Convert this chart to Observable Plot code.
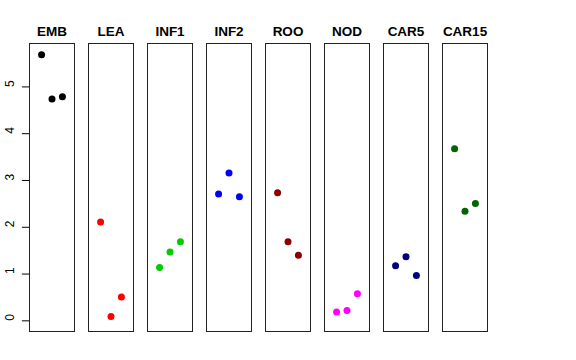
<!DOCTYPE html>
<html>
<head>
<meta charset="utf-8">
<script src="https://cdn.jsdelivr.net/npm/d3@7"></script>
<script src="https://cdn.jsdelivr.net/npm/@observablehq/plot@0.6"></script>
<style>
  html, body { margin: 0; padding: 0; background: #fff; }
  svg { display: block; }
</style>
</head>
<body>
<div id="chart"></div>
<script>
const categories = ["EMB", "LEA", "INF1", "INF2", "ROO", "NOD", "CAR5", "CAR15"];
const colors = ["#000000", "#FF0000", "#00CD00", "#0000FF", "#8B0000", "#FF00FF", "#000080", "#006400"];
const positions = [1, 2, 3];
const EMB = [5.69, 4.74, 4.79];
const LEA = [2.11, 0.09, 0.51];
const INF1 = [1.14, 1.47, 1.69];
const INF2 = [2.71, 3.16, 2.65];
const ROO = [2.74, 1.69, 1.40];
const NOD = [0.19, 0.22, 0.58];
const CAR5 = [1.18, 1.37, 0.97];
const CAR15 = [3.68, 2.34, 2.51];
const yTicks = [0, 1, 2, 3, 4, 5];

const series = [EMB, LEA, INF1, INF2, ROO, NOD, CAR5, CAR15];
const rows = [];
categories.forEach((c, i) => {
  series[i].forEach((v, j) => rows.push({panel: c, x: positions[j], y: v}));
});

const plot = Plot.plot({
  width: 576,
  height: 360,
  marginLeft: 29,
  marginRight: 88,
  marginTop: 43,
  marginBottom: 29,
  style: {fontFamily: "'Liberation Sans', Arial, sans-serif", background: "#fff"},
  fx: {domain: categories, paddingInner: 0.237, paddingOuter: 0, label: null},
  x: {domain: [-0.16, 4.16], axis: null},
  y: {domain: [-0.228, 5.928], axis: null},
  color: {domain: categories, range: colors},
  marks: [
    Plot.frame({stroke: "#222", strokeWidth: 1}),
    Plot.axisFx({anchor: "top", tickSize: 0, tickPadding: 8, fontSize: 13.5, fontWeight: "bold", label: null}),
    Plot.ruleY(yTicks, {y: d => d, fx: () => "EMB", x1: -0.16, x2: -0.16 - 7 / 10.25, stroke: "#000", clip: false}),
    Plot.text(yTicks, {y: d => d, fx: () => "EMB", text: d => String(d), frameAnchor: "left", dx: -19, rotate: -90, fontSize: 12, fill: "#000"}),
    Plot.dot(rows, {fx: "panel", x: "x", y: "y", fill: "panel", r: 3.5, stroke: null})
  ]
});
document.getElementById("chart").appendChild(plot);
</script>
</body>
</html>
